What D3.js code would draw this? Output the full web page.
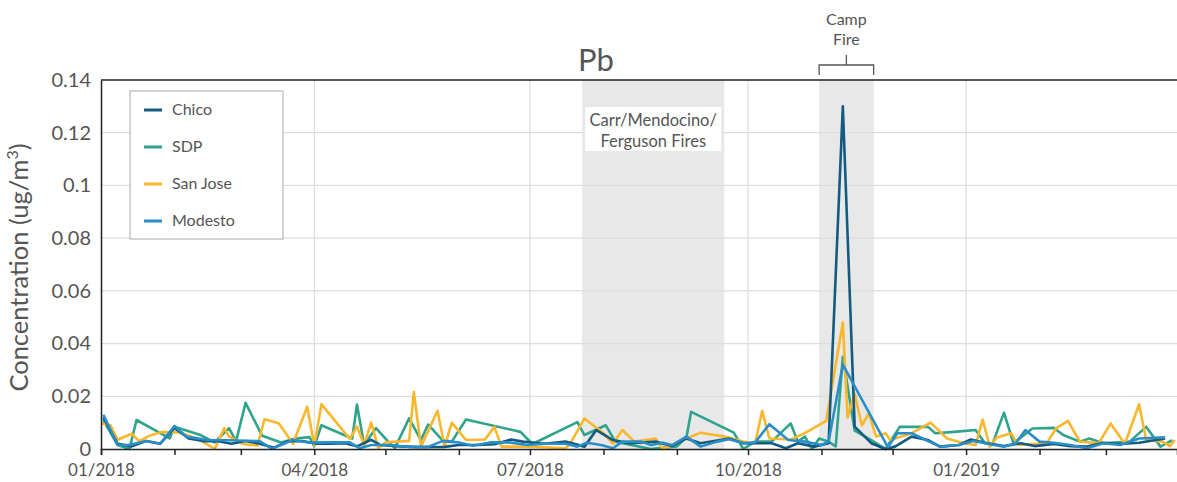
<!DOCTYPE html>
<html>
<head>
<meta charset="utf-8">
<script src="https://cdn.jsdelivr.net/npm/d3@7"></script>
<style>
  body { margin: 0; background: #fff; }
  svg text { font-family: Lato, "Open Sans", sans-serif; fill: #555; }
</style>
</head>
<body>
<div id="chart"></div>
<script>
var chico = [
  ["2018-01-02",0.012],["2018-01-08",0.002],["2018-01-14",0.001],["2018-01-20",0.003],["2018-01-26",0.002],
  ["2018-02-01",0.008],["2018-02-07",0.004],["2018-02-13",0.003],["2018-02-19",0.003],["2018-02-25",0.002],
  ["2018-03-03",0.003],["2018-03-09",0.002],["2018-03-15",0.0005],["2018-03-21",0.003],["2018-03-27",0.003],
  ["2018-04-02",0.002],["2018-04-08",0.002],["2018-04-14",0.0022],["2018-04-19",0.001],["2018-04-25",0.0035],
  ["2018-04-29",0.0015],["2018-05-07",0.001],["2018-05-15",0.0007],["2018-05-26",0.0008],["2018-06-01",0.0015],
  ["2018-06-09",0.0015],["2018-06-16",0.0018],["2018-06-23",0.0036],["2018-06-28",0.0028],["2018-07-07",0.002],
  ["2018-07-16",0.0028],["2018-07-24",0.0009],["2018-07-29",0.0072],["2018-08-05",0.0034],["2018-08-12",0.0022],
  ["2018-08-23",0.0028],["2018-08-30",0.0011],["2018-09-05",0.004],["2018-09-11",0.0022],["2018-09-23",0.004],
  ["2018-09-29",0.0022],["2018-10-05",0.0022],["2018-10-11",0.0022],["2018-10-17",0.0003],["2018-10-22",0.0022],
  ["2018-10-29",0.0009],["2018-11-04",0.0022],["2018-11-10",0.130],["2018-11-15",0.0085],["2018-11-22",0.0022],
  ["2018-11-28",0.0],["2018-12-02",0.0009],["2018-12-09",0.0047],["2018-12-16",0.0034],["2018-12-21",0.0009],
  ["2018-12-29",0.0015],["2019-01-03",0.0036],["2019-01-09",0.0024],["2019-01-17",0.0011],["2019-01-24",0.0022],
  ["2019-01-30",0.0011],["2019-02-07",0.0019],["2019-02-14",0.0011],["2019-02-21",0.0009],["2019-02-28",0.0024],
  ["2019-03-07",0.0019],["2019-03-15",0.0024],["2019-03-26",0.004]
];

var sdp = [
  ["2018-01-02",0.011],["2018-01-08",0.0015],["2018-01-13",0.0],["2018-01-16",0.011],["2018-01-26",0.006],
  ["2018-01-30",0.004],["2018-02-01",0.0084],["2018-02-12",0.0053],["2018-02-18",0.0025],["2018-02-24",0.0079],
  ["2018-02-27",0.003],["2018-03-03",0.0175],["2018-03-10",0.005],["2018-03-18",0.0025],["2018-03-24",0.004],
  ["2018-03-30",0.0045],["2018-04-01",0.001],["2018-04-04",0.009],["2018-04-17",0.004],["2018-04-19",0.0169],
  ["2018-04-22",0.0016],["2018-04-27",0.0079],["2018-05-02",0.003],["2018-05-05",0.0004],["2018-05-11",0.0116],
  ["2018-05-16",0.0034],["2018-05-19",0.0093],["2018-05-25",0.0034],["2018-05-29",0.0028],["2018-06-04",0.0112],
  ["2018-06-27",0.0065],["2018-07-02",0.0019],["2018-07-21",0.0102],["2018-07-24",0.0053],["2018-08-02",0.009],
  ["2018-08-06",0.0028],["2018-08-21",0.0],["2018-09-01",0.001],["2018-09-05",0.0044],["2018-09-07",0.0141],
  ["2018-09-25",0.0062],["2018-09-29",0.0],["2018-10-04",0.0028],["2018-10-11",0.0028],["2018-10-19",0.0097],
  ["2018-10-22",0.0028],["2018-10-25",0.0047],["2018-10-28",0.0],["2018-10-31",0.004],["2018-11-04",0.0028],
  ["2018-11-07",0.001],["2018-11-10",0.035],["2018-11-15",0.007],["2018-11-22",0.0034],["2018-11-28",0.0],
  ["2018-12-04",0.0084],["2018-12-16",0.0084],["2018-12-19",0.006],["2018-12-27",0.0065],["2019-01-05",0.0072],
  ["2019-01-09",0.0022],["2019-01-12",0.0015],["2019-01-17",0.0138],["2019-01-21",0.0022],["2019-01-29",0.0078],
  ["2019-02-07",0.008],["2019-02-11",0.0053],["2019-02-18",0.0028],["2019-02-22",0.004],["2019-02-28",0.0022],
  ["2019-03-11",0.0028],["2019-03-18",0.0084],["2019-03-24",0.0009],["2019-03-29",0.0034]
];

var sanJose = [
  ["2018-01-01",0.0098],["2018-01-05",0.009],["2018-01-08",0.0035],["2018-01-14",0.0058],["2018-01-17",0.003],
  ["2018-01-21",0.0048],["2018-01-26",0.0064],["2018-02-03",0.0063],["2018-02-11",0.0038],["2018-02-18",0.0],
  ["2018-02-22",0.0079],["2018-02-24",0.0048],["2018-03-02",0.0019],["2018-03-08",0.0013],["2018-03-11",0.0113],
  ["2018-03-17",0.0098],["2018-03-23",0.002],["2018-03-29",0.016],["2018-04-01",0.0013],["2018-04-04",0.017],
  ["2018-04-16",0.0038],["2018-04-19",0.0085],["2018-04-22",0.0016],["2018-04-25",0.010],["2018-04-28",0.0004],
  ["2018-05-01",0.0025],["2018-05-11",0.0031],["2018-05-13",0.0216],["2018-05-16",0.0009],["2018-05-23",0.0145],
  ["2018-05-26",0.0009],["2018-05-29",0.010],["2018-06-04",0.0034],["2018-06-12",0.0036],["2018-06-16",0.0084],
  ["2018-06-19",0.0009],["2018-07-02",0.0009],["2018-07-16",0.0003],["2018-07-18",0.002],["2018-07-24",0.0116],
  ["2018-08-01",0.006],["2018-08-05",0.002],["2018-08-09",0.0072],["2018-08-14",0.0028],["2018-08-23",0.004],
  ["2018-08-26",0.0],["2018-08-31",0.0018],["2018-09-05",0.004],["2018-09-11",0.0062],["2018-09-21",0.0047],
  ["2018-09-29",0.0028],["2018-10-02",0.0024],["2018-10-04",0.0022],["2018-10-07",0.0145],["2018-10-10",0.004],
  ["2018-10-19",0.0036],["2018-10-25",0.006],["2018-11-03",0.0107],["2018-11-10",0.048],["2018-11-12",0.012],
  ["2018-11-15",0.021],["2018-11-18",0.009],["2018-11-21",0.0135],["2018-11-24",0.0047],["2018-11-28",0.006],
  ["2018-11-30",0.0034],["2018-12-09",0.006],["2018-12-17",0.010],["2018-12-24",0.004],["2018-12-31",0.0022],
  ["2019-01-05",0.0015],["2019-01-08",0.0112],["2019-01-11",0.0009],["2019-01-14",0.0044],["2019-01-20",0.006],
  ["2019-01-23",0.0015],["2019-02-04",0.0022],["2019-02-08",0.0078],["2019-02-13",0.0107],["2019-02-18",0.0028],
  ["2019-02-26",0.0022],["2019-03-03",0.0097],["2019-03-09",0.0019],["2019-03-15",0.017],["2019-03-18",0.0034],
  ["2019-03-25",0.0028],["2019-03-28",0.0011],["2019-03-30",0.0034]
];

var modesto = [
  ["2018-01-02",0.013],["2018-01-08",0.0015],["2018-01-13",0.0015],["2018-01-20",0.003],["2018-01-26",0.002],
  ["2018-02-01",0.0087],["2018-02-06",0.0047],["2018-02-15",0.0034],["2018-02-24",0.0033],["2018-03-09",0.003],
  ["2018-03-14",0.0001],["2018-03-23",0.0034],["2018-03-30",0.0024],["2018-04-07",0.0025],["2018-04-16",0.0025],
  ["2018-04-20",0.0003],["2018-04-25",0.0015],["2018-05-02",0.0015],["2018-05-11",0.0008],["2018-05-19",0.0008],
  ["2018-05-25",0.003],["2018-06-01",0.0025],["2018-06-07",0.0012],["2018-06-14",0.0025],["2018-06-22",0.0025],
  ["2018-06-30",0.0015],["2018-07-07",0.002],["2018-07-16",0.002],["2018-07-21",0.0009],["2018-07-25",0.0024],
  ["2018-07-31",0.0015],["2018-08-05",0.0003],["2018-08-09",0.0028],["2018-08-17",0.0028],["2018-08-21",0.0015],
  ["2018-08-26",0.0024],["2018-08-30",0.0015],["2018-09-05",0.0047],["2018-09-11",0.0009],["2018-09-18",0.0028],
  ["2018-09-23",0.0037],["2018-09-29",0.0022],["2018-10-04",0.0025],["2018-10-10",0.0094],["2018-10-18",0.0034],
  ["2018-10-25",0.0028],["2018-11-01",0.0015],["2018-11-04",0.0028],["2018-11-10",0.032],["2018-11-29",0.0007],
  ["2018-12-03",0.006],["2018-12-09",0.006],["2018-12-15",0.0034],["2018-12-21",0.0009],["2018-12-29",0.0015],
  ["2019-01-04",0.003],["2019-01-09",0.0022],["2019-01-17",0.0009],["2019-01-22",0.0022],["2019-01-26",0.0072],
  ["2019-02-01",0.0028],["2019-02-07",0.0024],["2019-02-14",0.0015],["2019-02-21",0.0003],["2019-02-28",0.0022],
  ["2019-03-07",0.0015],["2019-03-15",0.004],["2019-03-26",0.0044]
];

var seriesNames = ["Chico", "SDP", "San Jose", "Modesto"];
var seriesColors = ["#135b81", "#2fa38b", "#fbb72c", "#2a8fc8"];
var yTicks = [0, 0.02, 0.04, 0.06, 0.08, 0.1, 0.12, 0.14];
var fireSpans = [
  {start: "2018-07-23", end: "2018-09-21"},
  {start: "2018-10-31", end: "2018-11-23"}
];

var width = 1177, height = 482;
var margin = {left: 101, top: 80, bottom: 33};
var parse = d3.timeParse("%Y-%m-%d");

var svg = d3.select("#chart").append("svg")
  .attr("width", width).attr("height", height);

var x = d3.scaleTime()
  .domain([parse("2018-01-01"), parse("2019-03-31")])
  .range([margin.left, width]);
var y = d3.scaleLinear()
  .domain([0, 0.14])
  .range([height - margin.bottom, margin.top]);

// shaded fire periods
svg.selectAll(".band").data(fireSpans).enter().append("rect")
  .attr("class", "band")
  .attr("x", function(d) { return x(parse(d.start)); })
  .attr("width", function(d) { return x(parse(d.end)) - x(parse(d.start)); })
  .attr("y", y(0.14))
  .attr("height", y(0) - y(0.14))
  .attr("fill", "#e8e8e8");

// grid
var quarters = d3.timeMonth.every(3).range(parse("2018-02-01"), parse("2019-04-01"));
svg.append("g").selectAll("line").data(quarters).enter().append("line")
  .attr("x1", function(d) { return x(d); }).attr("x2", function(d) { return x(d); })
  .attr("y1", y(0.14)).attr("y2", y(0))
  .attr("stroke", "#ddd").attr("stroke-width", 1.2);
svg.append("g").selectAll("line").data(yTicks.slice(1, -1)).enter().append("line")
  .attr("x1", margin.left).attr("x2", width)
  .attr("y1", function(d) { return y(d); }).attr("y2", function(d) { return y(d); })
  .attr("stroke", "#ddd").attr("stroke-width", 1.2);

// Carr label
var carrX = (x(parse(fireSpans[0].start)) + x(parse(fireSpans[0].end))) / 2;
svg.append("rect").attr("x", carrX - 68).attr("y", 107).attr("width", 136).attr("height", 44).attr("fill", "#fff");
svg.append("text").attr("x", carrX).attr("y", 126).attr("text-anchor", "middle")
  .style("font-size", "16.5px").text("Carr/Mendocino/");
svg.append("text").attr("x", carrX).attr("y", 147).attr("text-anchor", "middle")
  .style("font-size", "16.5px").text("Ferguson Fires");

// lines
var line = d3.line()
  .x(function(d) { return x(parse(d[0])); })
  .y(function(d) { return y(d[1]); });
var allSeries = [chico, sdp, sanJose, modesto];
[1, 2, 0, 3].forEach(function(i) {
  svg.append("path")
    .datum(allSeries[i])
    .attr("d", line)
    .attr("fill", "none")
    .attr("stroke", seriesColors[i])
    .attr("stroke-width", 2.6)
    .attr("stroke-linejoin", "round");
});

// axes
var xAxis = d3.axisBottom(x)
  .ticks(d3.timeMonth.every(1))
  .tickSize(6)
  .tickFormat(function(d) { return d.getMonth() % 3 === 0 ? d3.timeFormat("%m/%Y")(d) : ""; });
var gx = svg.append("g").attr("transform", "translate(0," + y(0) + ")").call(xAxis);
gx.select(".domain").attr("stroke", "#222").attr("stroke-width", 1.5);
gx.selectAll(".tick line").attr("stroke", "#222").attr("stroke-width", 1.5);
gx.selectAll(".tick text").style("font-size", "17px").style("font-family", "Lato, sans-serif")
  .attr("fill", "#555").attr("dy", "1.05em");

var yAxis = d3.axisLeft(y).tickValues(yTicks).tickSize(0).tickPadding(10)
  .tickFormat(function(d) { return String(+d.toFixed(2)); });
var gy = svg.append("g").attr("transform", "translate(" + margin.left + ",0)").call(yAxis);
gy.select(".domain").attr("stroke", "#222").attr("stroke-width", 1.5);
gy.selectAll(".tick text").style("font-size", "20px").style("font-family", "Lato, sans-serif")
  .attr("fill", "#555");

svg.append("line").attr("x1", margin.left).attr("x2", width)
  .attr("y1", y(0.14)).attr("y2", y(0.14)).attr("stroke", "#222").attr("stroke-width", 1.5);

// titles
svg.append("text").attr("x", 596).attr("y", 71).attr("text-anchor", "middle")
  .style("font-size", "31px").text("Pb");

var yl = svg.append("text")
  .attr("transform", "translate(28," + (y(0.07) + 3) + ") rotate(-90)")
  .attr("text-anchor", "middle").style("font-size", "25.5px");
yl.append("tspan").text("Concentration (ug/m");
yl.append("tspan").attr("dy", -10).style("font-size", "16px").text("3");
yl.append("tspan").attr("dy", 10).text(")");

// Camp Fire bracket
var c0 = x(parse(fireSpans[1].start)), c1 = x(parse(fireSpans[1].end)), cm = (c0 + c1) / 2;
svg.append("text").attr("x", cm).attr("y", 25).attr("text-anchor", "middle").style("font-size", "16px").text("Camp");
svg.append("text").attr("x", cm).attr("y", 45).attr("text-anchor", "middle").style("font-size", "16px").text("Fire");
svg.append("path")
  .attr("d", "M" + c0 + ",75V65H" + c1 + "V75M" + cm + ",65V55")
  .attr("fill", "none").attr("stroke", "#555").attr("stroke-width", 1.3);

// legend
var legend = svg.append("g").attr("transform", "translate(130,91)");
legend.append("rect").attr("width", 153).attr("height", 148)
  .attr("fill", "#fff").attr("stroke", "#aaa").attr("stroke-width", 1);
seriesNames.forEach(function(name, i) {
  var ly = 19 + i * 37;
  legend.append("line").attr("x1", 14).attr("x2", 32).attr("y1", ly).attr("y2", ly)
    .attr("stroke", seriesColors[i]).attr("stroke-width", 3);
  legend.append("text").attr("x", 42).attr("y", ly + 5).style("font-size", "16px").text(name);
});
</script>
</body>
</html>
